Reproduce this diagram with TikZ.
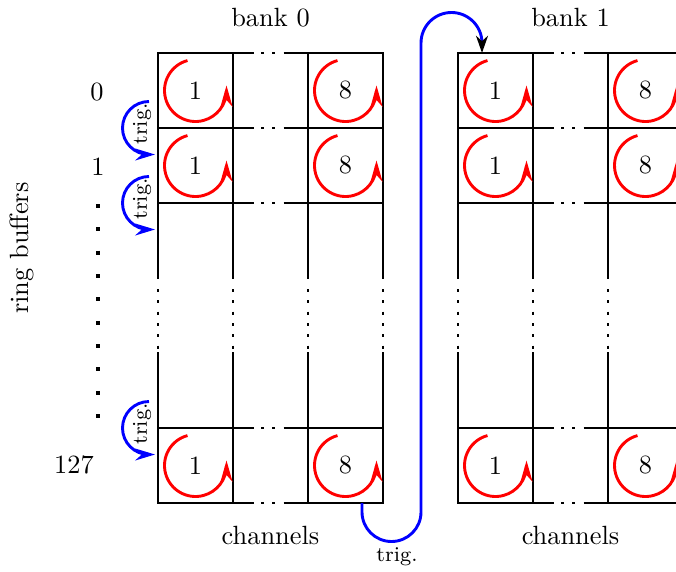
\documentclass[tikz,border=0pt]{standalone}
\usetikzlibrary{arrows.meta}
\begin{document}
\begin{tikzpicture}[x=0.0133333cm,y=0.0133333cm,
  gridline/.style={line width=1.1pt, line cap=rect},
  gdots/.style={line width=1.1pt, dash pattern=on 1.1pt off 3.2pt},
  ring/.style={red, line width=1.1pt, -{Stealth[length=8pt,width=4.5pt,inset=2.5pt]}},
  trigarc/.style={blue, line width=1.1pt, -{Stealth[length=7.5pt,width=4.5pt,inset=2.5pt]}},
  trigtext/.style={font=\footnotesize, inner sep=0pt},
  lbl/.style={inner sep=0pt}]
\useasboundingbox (0,0) rectangle (676,-571);
% grids of both banks
\foreach \X/\b in {0/0,300/1} {
  \foreach \y in {53,128,203,428,503} {
    \draw[gridline] (\X+158,-\y) -- (\X+253,-\y);
    \draw[gdots] (\X+261,-\y) -- (\X+287,-\y);
    \draw[gridline] (\X+288,-\y) -- (\X+383,-\y);
  }
  \foreach \x in {158,233,308,383} {
    \draw[gridline] (\X+\x,-53) -- (\X+\x,-278);
    \draw[gdots] (\X+\x,-289) -- (\X+\x,-352);
    \draw[gridline] (\X+\x,-353) -- (\X+\x,-503);
  }
  \foreach \cy/\r in {90.5/0,165.5/1,465.5/127} {
    \foreach \cx/\c in {195.5/1,345.5/8} {
      \node[lbl] (n-\b-\r-\c) at (\X+\cx,-\cy) {\c};
      \draw[ring] (\X+\cx,-\cy) ++(105:31) arc[start angle=105,end angle=360,radius=31] -- ++(0,5);
    }
  }
  \node[lbl] (bank\b) at (\X+270.5,-18) {bank \b};
  \node[lbl] (chan\b) at (\X+270.5,-535) {channels};
}
% row labels
\node[lbl] (r0) at (97,-92) {0};
\node[lbl] (r1) at (98,-167) {1};
\node[lbl] (r127) at (74,-465) {127};
\node[lbl, rotate=90] (rb) at (22,-248) {ring buffers};
\draw[line width=1.5pt, dash pattern=on 1.5pt off 7.36pt] (98,-204) -- (98,-418);
% trigger arcs on the left
\foreach \y/\i in {128/a,203/b,428/c} {
  \draw[trigarc] (149,-\y) ++(90:26.5) arc[start angle=90,end angle=270,radius=26.5] -- ++(6,0);
  \node[trigtext, rotate=90] (t\i) at (142,-\y+4) {trig.};
}
% trigger from bank 0 to bank 1
\coordinate (src) at (362,-503);
\coordinate (dst) at (482,-53);
\draw[blue, line width=1.1pt, -{Stealth[length=6.5pt,width=4.5pt,inset=2pt,black]}]
  (src) -- (362,-512) arc[start angle=180,end angle=360,radius=29.5]
  -- (421,-43) arc[start angle=180,end angle=0,radius=30.5] -- (dst);
\node[trigtext] (tbot) at (397,-557) {trig.};
\end{tikzpicture}
\end{document}
